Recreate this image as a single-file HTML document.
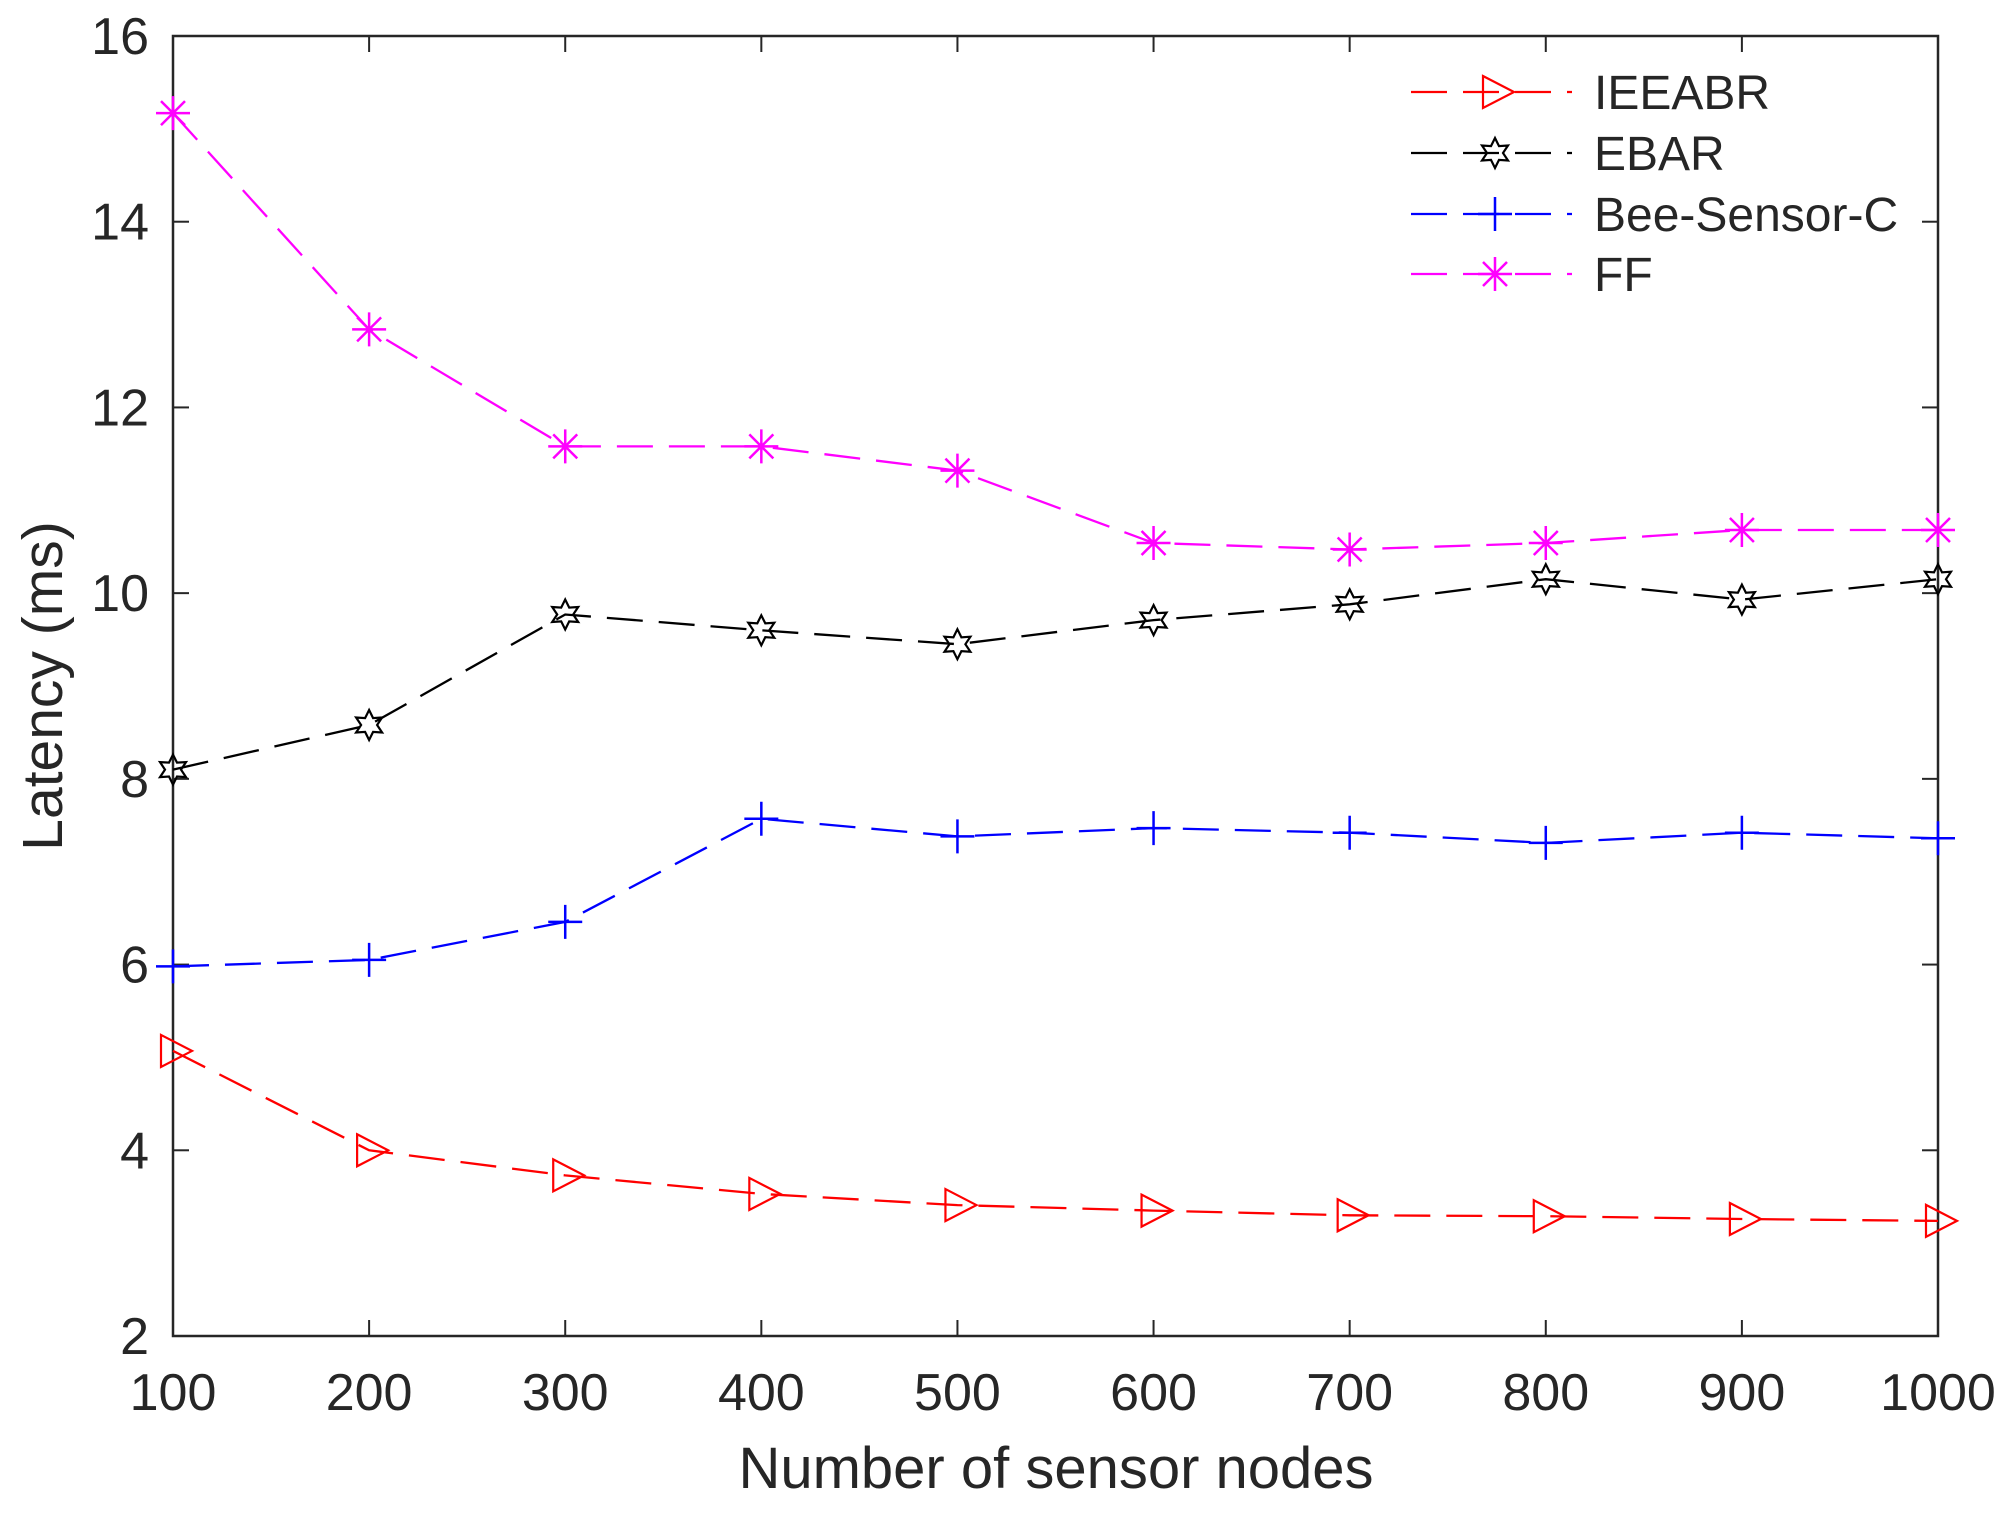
<!DOCTYPE html>
<html><head><meta charset="utf-8"><style>
html,body{margin:0;padding:0;background:#fff}
svg{display:block;font-family:"Liberation Sans",Arial,sans-serif}
</style></head><body>
<svg id="chart" width="2012" height="1513" viewBox="0 0 2012 1513" xmlns="http://www.w3.org/2000/svg">
<rect x="0" y="0" width="2012" height="1513" fill="#fff"/>
<g id="plot"></g>
</svg>
<script>
const categories=[100,200,300,400,500,600,700,800,900,1000];
const xTicks=[100,200,300,400,500,600,700,800,900,1000];
const yTicks=[2,4,6,8,10,12,14,16];
const seriesNames=["IEEABR","EBAR","Bee-Sensor-C","FF"];
const ieeabr=[5.07,4.0,3.73,3.53,3.41,3.35,3.30,3.29,3.26,3.24];
const ebar=[8.1,8.58,9.77,9.6,9.45,9.71,9.88,10.15,9.93,10.15];
const bee=[5.98,6.05,6.46,7.57,7.38,7.47,7.42,7.31,7.42,7.36];
const ff=[15.17,12.84,11.58,11.58,11.32,10.54,10.47,10.54,10.68,10.68];

const L=173,R=1938,T=36,B=1336,NS="http://www.w3.org/2000/svg";
const X=v=>L+(v-100)/900*(R-L);
const Y=v=>B-(v-2)/14*(B-T);
const g=document.getElementById('plot');
function mk(t,a,p){const e=document.createElementNS(NS,t);for(const k in a)e.setAttribute(k,a[k]);(p||g).appendChild(e);return e;}

const box=mk('rect',{x:L,y:T,width:R-L,height:B-T,fill:'none',stroke:'#262626','stroke-width':2.5});


xTicks.forEach(v=>{
  const x=X(v);
  mk('line',{x1:x,y1:B,x2:x,y2:B-16,stroke:'#262626','stroke-width':2});
  mk('line',{x1:x,y1:T,x2:x,y2:T+16,stroke:'#262626','stroke-width':2});
  const t=mk('text',{x:x,y:B+74,'text-anchor':'middle','font-size':52,fill:'#262626'});
  t.textContent=v;
  
  
});
yTicks.forEach(v=>{
  const y=Y(v);
  mk('line',{x1:L,y1:y,x2:L+16,y2:y,stroke:'#262626','stroke-width':2});
  mk('line',{x1:R,y1:y,x2:R-16,y2:y,stroke:'#262626','stroke-width':2});
  const t=mk('text',{x:L-24,y:y+18,'text-anchor':'end','font-size':52,fill:'#262626'});
  t.textContent=v;
  
  
});
const xl=mk('text',{x:1056,y:1488,'text-anchor':'middle','font-size':58,fill:'#262626'});
xl.textContent='Number of sensor nodes';


const yl=mk('text',{x:0,y:0,'text-anchor':'middle','font-size':57,fill:'#262626',transform:'translate(62,686) rotate(-90)'});
yl.textContent='Latency (ms)';



function marker(type,x,y,color,p){
  if(type==='tri'){
    return mk('polygon',{points:`${x-12},${y-16} ${x+19},${y} ${x-12},${y+16}`,fill:'none',stroke:color,'stroke-width':2.2},p);
  }
  if(type==='star'){
    let pts=[];for(let i=0;i<12;i++){const r=i%2?8:15;const a=Math.PI/6*i-Math.PI/2;pts.push((x+r*Math.cos(a)).toFixed(1)+','+(y+r*Math.sin(a)).toFixed(1));}
    return mk('polygon',{points:pts.join(' '),fill:'none',stroke:color,'stroke-width':2.2},p);
  }
  if(type==='plus'){
    return mk('path',{d:`M${x-17},${y}H${x+17}M${x},${y-17}V${y+17}`,stroke:color,'stroke-width':2.5,fill:'none'},p);
  }
  const s=17,d=12;
  return mk('path',{d:`M${x-s},${y}H${x+s}M${x},${y-s}V${y+s}M${x-d},${y-d}L${x+d},${y+d}M${x-d},${y+d}L${x+d},${y-d}`,stroke:color,'stroke-width':2.5,fill:'none'},p);
}
const series=[[ieeabr,'#ff0000','tri','ieeabr'],[ebar,'#000000','star','ebar'],[bee,'#0000ff','plus','bee-sensor-c'],[ff,'#ff00ff','ast','ff']];
series.forEach(([vals,col,m,nm])=>{
  const sg=mk('g',{});
  
  
  const pts=vals.map((v,i)=>X(categories[i]).toFixed(1)+','+Y(v).toFixed(1)).join(' ');
  const pl=mk('polyline',{points:pts,fill:'none',stroke:col,'stroke-width':2.3,'stroke-dasharray':'36 16'},sg);
  
  
  vals.forEach((v,i)=>{
    const mm=marker(m,X(categories[i]),Y(v),col,sg);
    
    
  });
});
const lg=mk('g',{});


const rows=[92,153,214,274];
series.forEach(([vals,col,m,nm],i)=>{
  const y=rows[i];
  const eg=mk('g',{},lg);
  
  
  mk('line',{x1:1411,y1:y,x2:1572,y2:y,stroke:col,'stroke-width':2.3,'stroke-dasharray':'36 16'},eg);
  marker(m,1495,y,col,eg);
  const t=mk('text',{x:1594,y:y+17,'font-size':48,fill:'#262626'},eg);
  t.textContent=seriesNames[i];
});
</script>
</body></html>
